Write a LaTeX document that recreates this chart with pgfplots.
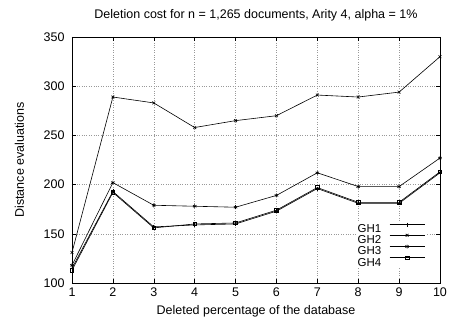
\documentclass[border=0pt]{standalone}
\usepackage{fontspec}
\setmainfont{Liberation Sans}
\usepackage{pgfplots}
\pgfplotsset{compat=1.18}
\newcommand\fa{\fontsize{12.5}{15}\selectfont}
\newcommand\fb{\fontsize{11.5}{12}\selectfont}
\begin{document}
\begin{tikzpicture}
\begin{axis}[
  at={(0,0)}, anchor=south west,
  scale only axis, width=368pt, height=246pt,
  xmin=1, xmax=10, ymin=100, ymax=350,
  xtick={1,...,10}, ytick={100,150,...,350},
  xticklabels={{\fa 1},{\fa 2},{\fa 3},{\fa 4},{\fa 5},{\fa 6},{\fa 7},{\fa 8},{\fa 9},{\fa 10}},
  yticklabels={{\fa 100},{\fa 150},{\fa 200},{\fa 250},{\fa 300},{\fa 350}},
  tick align=inside,
  grid=major, grid style={dotted, gray!80, line width=0.5pt},
  axis line style={line width=0.7pt},
  tick style={black, line width=0.5pt},
  major tick length=4pt,
  xticklabel style={yshift=-1pt},
  yticklabel style={xshift=-4pt},
  title style={at={(axis description cs:0.5,1)}, anchor=base, yshift=12pt},
  xlabel style={at={(axis description cs:0.5,0)}, anchor=base, yshift=-32pt},
  ylabel style={at={(axis description cs:0,0.5)}, anchor=base, yshift=48pt},
  title={\fa Deletion cost for n = 1,265 documents, Arity 4, alpha = 1\%},
  xlabel={\fa Deleted percentage of the database},
  ylabel={\fa Distance evaluations},
  legend style={at={(rel axis cs:0.965,0.06)}, anchor=south east, draw=none, fill=white,
    row sep=0.9pt, column sep=8pt, inner sep=2pt,
    nodes={inner sep=0pt, text height=8.4pt, text depth=0pt}},
  legend plot pos=right, legend cell align=right,
  legend image code/.code={\draw[mark repeat=2,mark phase=2] plot coordinates {(0pt,4.2pt)(17.5pt,4.2pt)(35pt,4.2pt)};},
  every axis plot/.append style={black, line width=0.6pt, mark size=2pt, mark options={solid, line width=0.6pt}},
]
\addplot[mark=+] coordinates {(1,115)(2,193)(3,157)(4,159)(5,160)(6,173)(7,196)(8,181)(9,181)(10,212)};
\addlegendentry{\fb GH1}
\addplot[mark=x] coordinates {(1,131)(2,289)(3,283)(4,258)(5,265)(6,270)(7,291)(8,289)(9,294)(10,330)};
\addlegendentry{\fb GH2}
\addplot[mark=asterisk] coordinates {(1,118)(2,202)(3,179)(4,178)(5,177)(6,189)(7,212)(8,198)(9,198)(10,227)};
\addlegendentry{\fb GH3}
\addplot[mark=square, mark size=1.8pt] coordinates {(1,113)(2,192)(3,156)(4,160)(5,161)(6,174)(7,197)(8,182)(9,182)(10,213)};
\addlegendentry{\fb GH4}
\end{axis}
\pgfresetboundingbox
\path[use as bounding box] (-72pt,-35pt) rectangle (379pt,283pt);
\end{tikzpicture}
\end{document}
